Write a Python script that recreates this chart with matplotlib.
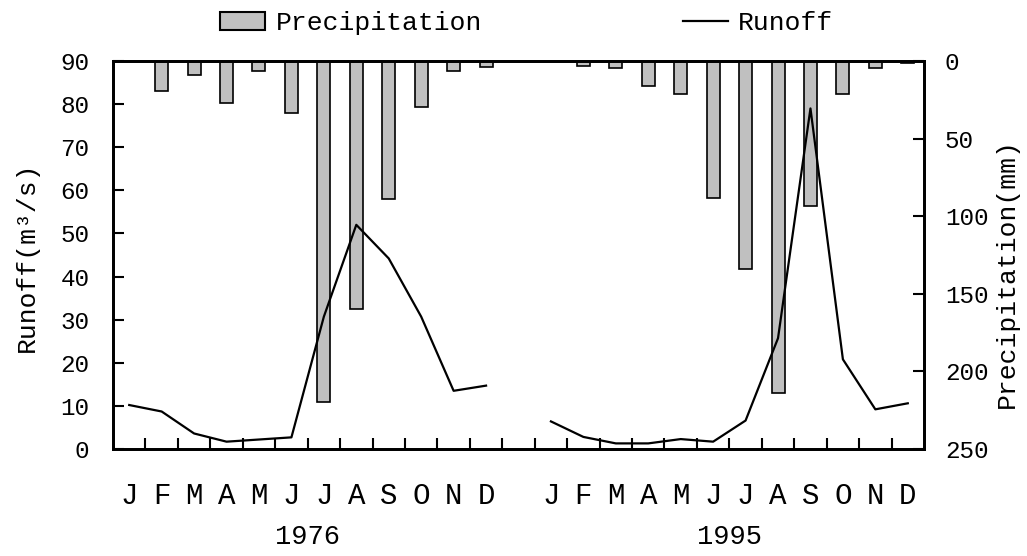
import matplotlib
matplotlib.use("Agg")
import matplotlib.pyplot as plt
import numpy as np
from matplotlib.patches import Patch
from matplotlib.lines import Line2D

plt.rcParams["font.family"] = ["Liberation Mono", "DejaVu Sans"]

# Datos
meses = ["J", "F", "M", "A", "M", "J", "J", "A", "S", "O", "N", "D"]
anios = ["1976", "1995"]

escorrentia_1976 = [10.2, 8.7, 3.6, 1.7, 2.2, 2.7, 30.7, 52.0, 44.2, 30.7, 13.5, 14.7]
escorrentia_1995 = [6.4, 2.8, 1.3, 1.3, 2.3, 1.7, 6.6, 25.7, 79.0, 20.8, 9.2, 10.6]

precip_1976 = [0, 19.1, 9.2, 27.3, 6.6, 33.7, 219.4, 160.0, 89.1, 29.8, 6.6, 4.1]
precip_1995 = [0, 3.0, 4.3, 16.1, 21.1, 88.1, 134.2, 214.1, 93.2, 21.1, 4.3, 1.5]

# Posiciones: 12 meses, un hueco, 12 meses
x1 = np.arange(12)
x2 = np.arange(13, 25)

fig = plt.figure(figsize=(10.27, 5.56), dpi=100)
ax = fig.add_axes([113 / 1027, 1 - 449 / 556, 811 / 1027, 388 / 556])
ax2 = ax.twinx()

# Barras de precipitación (eje derecho invertido)
for xs, pr in [(x1, precip_1976), (x2, precip_1995)]:
    ax2.bar(xs, pr, width=0.4, color="#c0c0c0", edgecolor="black", linewidth=1.2)
ax2.set_ylim(250, 0)
ax2.set_yticks(np.arange(0, 251, 50))

# Línea de escorrentía encima de las barras
ax.set_zorder(ax2.get_zorder() + 1)
ax.patch.set_visible(False)
ax.plot(x1, escorrentia_1976, color="black", lw=1.6)
ax.plot(x2, escorrentia_1995, color="black", lw=1.6)
ax.set_ylim(0, 90)
ax.set_yticks(np.arange(0, 91, 10))
ax.set_xlim(-0.5, 24.5)

# Ticks en los bordes de cada mes, etiquetas en el centro
ax.set_xticks(np.arange(0.5, 24, 1))
ax.set_xticklabels([])
ax.set_xticks(list(x1) + list(x2), minor=True)
ax.set_xticklabels(meses + meses, minor=True, fontsize=21)
ax.tick_params(axis="x", which="major", direction="in", length=8, width=1.5)
ax.tick_params(axis="x", which="minor", length=0, pad=24)
ax.tick_params(axis="y", direction="in", length=8, width=1.5, labelsize=17.5, pad=17)
ax2.tick_params(axis="y", direction="in", length=8, width=1.5, labelsize=17.5, pad=15)

for a in (ax, ax2):
    for s in a.spines.values():
        s.set_linewidth(2)

# Años debajo de los meses
for xs, anio in [(x1, anios[0]), (x2, anios[1])]:
    fig.text((113 + (xs.mean() + 0.5) * 811 / 25) / 1027, 1 - 537 / 556, anio,
             ha="center", va="center", fontsize=19.5)

fig.text(27 / 1027, 1 - 257 / 556, "Runoff(m³/s)", rotation=90,
         ha="center", va="center", fontsize=19)
fig.text(1007 / 1027, 1 - 273 / 556, "Precipitation(mm)", rotation=90,
         ha="center", va="center", fontsize=19)

handles = [Patch(facecolor="#c0c0c0", edgecolor="black", linewidth=1.5),
           Line2D([], [], color="black", lw=1.6)]
fig.legend(handles, ["Precipitation", "Runoff"], ncol=2, frameon=False,
           loc="center", bbox_to_anchor=(527 / 1027, 1 - 23 / 556),
           fontsize=19, handlelength=1.7, handleheight=0.7,
           handletextpad=0.4, columnspacing=7.6, borderpad=0)

fig.savefig("out.png", dpi=100)
